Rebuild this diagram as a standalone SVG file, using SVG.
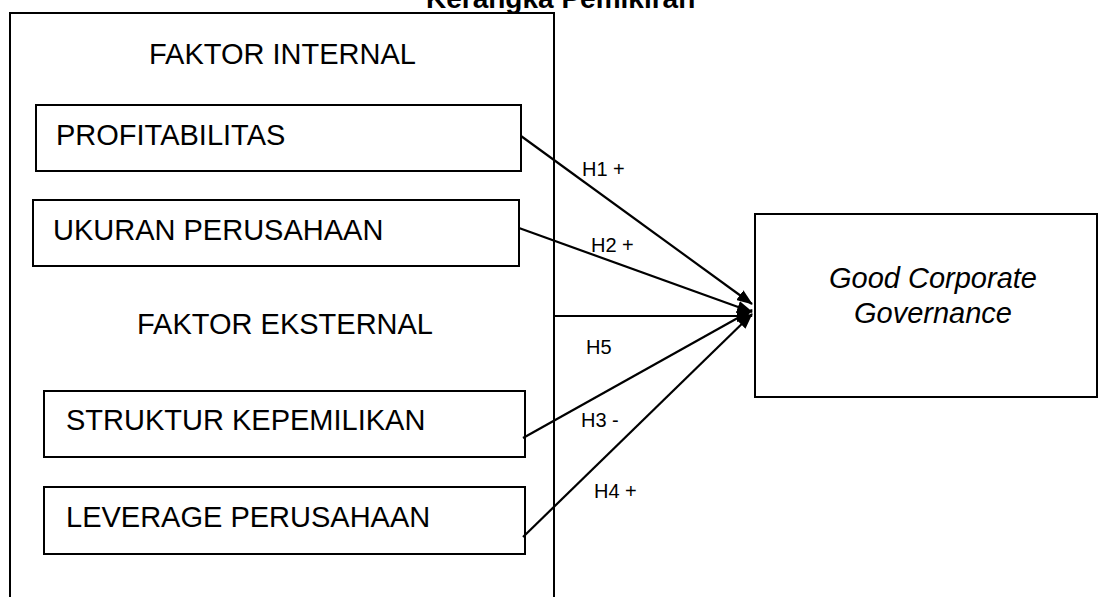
<svg xmlns="http://www.w3.org/2000/svg" width="1099" height="597" viewBox="0 0 1099 597">
<defs>
<style>
.box{fill:none;stroke:#000;stroke-width:2}
.t{font-family:"Liberation Sans",Arial,sans-serif;font-size:29px;fill:#000}
.lbl{font-family:"Liberation Sans",Arial,sans-serif;font-size:20px;fill:#000}
.ttl{font-family:"Liberation Sans",Arial,sans-serif;font-size:28px;font-weight:bold;fill:#000}
.con{stroke:#000;stroke-width:2.2;fill:none}
</style>
<marker id="ah" markerUnits="userSpaceOnUse" markerWidth="16" markerHeight="12" refX="15" refY="6" orient="auto">
<path d="M0,0 L16,6 L0,12 Z" fill="#000"/>
</marker>
</defs>
<rect width="1099" height="597" fill="#fff"/>
<text class="ttl" x="426" y="8">Kerangka Pemikiran</text>
<g id="outer">
<rect class="box" x="10" y="13" width="544" height="610"/>
<text class="t" x="149" y="64">FAKTOR INTERNAL</text>
<text class="t" x="137" y="334">FAKTOR EKSTERNAL</text>
</g>
<g id="profitabilitas">
<rect class="box" x="36" y="105" width="485" height="66"/>
<text class="t" x="56" y="145">PROFITABILITAS</text>
</g>
<g id="ukuran">
<rect class="box" x="33" y="200" width="486" height="66"/>
<text class="t" x="53" y="240">UKURAN PERUSAHAAN</text>
</g>
<g id="struktur">
<rect class="box" x="44" y="391" width="481" height="66"/>
<text class="t" x="66" y="430">STRUKTUR KEPEMILIKAN</text>
</g>
<g id="leverage">
<rect class="box" x="44" y="487" width="481" height="67"/>
<text class="t" x="66" y="527">LEVERAGE PERUSAHAAN</text>
</g>
<g id="gcg">
<rect class="box" x="755" y="214" width="342" height="183"/>
<text class="t" x="933" y="288" text-anchor="middle" font-style="italic">Good Corporate</text>
<text class="t" x="933" y="323" text-anchor="middle" font-style="italic">Governance</text>
</g>
<g id="connectors">
<line class="con" x1="521" y1="136" x2="752" y2="304" marker-end="url(#ah)"/>
<line class="con" x1="519" y1="228" x2="752" y2="312" marker-end="url(#ah)"/>
<line class="con" x1="554" y1="316" x2="752" y2="316" marker-end="url(#ah)"/>
<line class="con" x1="523" y1="438" x2="752" y2="310" marker-end="url(#ah)"/>
<line class="con" x1="523" y1="537" x2="752" y2="314" marker-end="url(#ah)"/>
<text class="lbl" x="582" y="176">H1 +</text>
<text class="lbl" x="591" y="252">H2 +</text>
<text class="lbl" x="586" y="354">H5</text>
<text class="lbl" x="581" y="427">H3 -</text>
<text class="lbl" x="594" y="498">H4 +</text>
</g>
</svg>
